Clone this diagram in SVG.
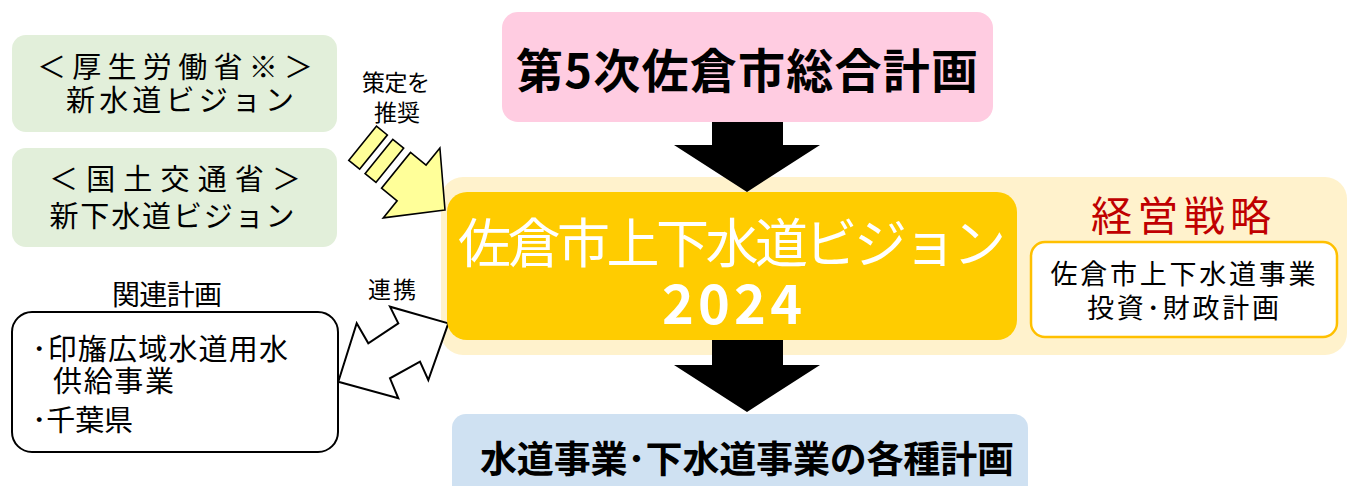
<svg xmlns="http://www.w3.org/2000/svg" width="1349" height="486" viewBox="0 0 1349 486">
<style>
text{font-family:"Noto Sans CJK JP","Noto Sans",sans-serif;fill:#000}
.green{fill:#E2EFDA}
.t29{font-size:29px}
.lbl{font-size:23px;text-anchor:middle}
.mid{text-anchor:middle}
.bold{font-weight:bold}
</style>
<rect width="1349" height="486" fill="#fff"/>
<g id="bg-strategy"><rect x="441" y="177" width="906" height="178" rx="22" fill="#FFF2CC"/></g>
<g id="node-sogo">
<rect x="502" y="12" width="491" height="110" rx="16" fill="#FFCCE1"/>
<text x="747" y="88" class="mid bold" font-size="47" textLength="462" lengthAdjust="spacing">第5次佐倉市総合計画</text>
</g>
<g id="node-mhlw">
<rect x="12" y="35" width="325" height="97" rx="14" class="green"/>
<text x="175" y="78" class="mid t29" textLength="276" lengthAdjust="spacing">＜厚生労働省※＞</text>
<text x="180" y="111" class="mid t29" textLength="228" lengthAdjust="spacing">新水道ビジョン</text>
</g>
<g id="node-mlit">
<rect x="12" y="148" width="325" height="99" rx="14" class="green"/>
<text x="175" y="190" class="mid t29" textLength="252" lengthAdjust="spacing">＜国土交通省＞</text>
<text x="172" y="227" class="mid t29" textLength="245" lengthAdjust="spacing">新下水道ビジョン</text>
</g>
<g id="node-related">
<text x="167" y="305" class="mid" font-size="28" textLength="110" lengthAdjust="spacing">関連計画</text>
<rect x="12" y="312" width="326" height="140" rx="20" fill="#fff" stroke="#000" stroke-width="2"/>
<text x="32" y="360" class="t29" textLength="256" lengthAdjust="spacing">･印旛広域水道用水</text>
<text x="53" y="392" class="t29" textLength="121" lengthAdjust="spacing">供給事業</text>
<text x="32" y="431" class="t29" textLength="101" lengthAdjust="spacing">･千葉県</text>
</g>
<g id="connectors">
<polygon points="712,122 783,122 783,145 820,145 747,192 674,145 712,145" fill="#000"/>
<polygon points="712,340 783,340 783,365 820,365 747,412 674,365 712,365" fill="#000"/>
<g transform="translate(445,210) rotate(39)" fill="#FFFF99" stroke="#000" stroke-width="1.6" stroke-linejoin="miter">
<polygon points="0,0 -43,45 -43,23 -63,23 -63,-23 -43,-23 -43,-45"/>
<rect x="-85" y="-22" width="14" height="44"/>
<rect x="-106" y="-22" width="14" height="44"/>
</g>
<polygon points="448.3,323.3 428.3,380 420,361.7 390,378.3 398.3,398.3 338.3,381.7 356.7,323.3 368.3,343.3 398.3,323.3 390,306.7" fill="#fff" stroke="#000" stroke-width="2"/>
<text x="396" y="91" class="lbl" textLength="68" lengthAdjust="spacing">策定を</text>
<text x="397" y="121" class="lbl" textLength="46" lengthAdjust="spacing">推奨</text>
<text x="392" y="298" class="lbl" textLength="48" lengthAdjust="spacing">連携</text>
</g>
<g id="node-vision">
<rect x="447" y="192" width="570" height="148" rx="20" fill="#FFCC00"/>
<text x="732" y="263" class="mid" font-size="53" style="fill:#fff" textLength="548" lengthAdjust="spacing">佐倉市上下水道ビジョン</text>
<text x="732" y="324" class="mid bold" font-size="54" style="fill:#fff" textLength="140" lengthAdjust="spacing">2024</text>
</g>
<g id="node-strategy">
<text x="1181" y="231" class="mid" font-size="41" style="fill:#C00000" textLength="180" lengthAdjust="spacing">経営戦略</text>
<rect x="1031" y="242" width="306" height="95" rx="14" fill="#fff" stroke="#FFC000" stroke-width="2.5"/>
<text x="1183" y="284" class="mid" font-size="27" textLength="265" lengthAdjust="spacing">佐倉市上下水道事業</text>
<text x="1183" y="318" class="mid" font-size="27" textLength="192" lengthAdjust="spacing">投資･財政計画</text>
</g>
<g id="node-plans">
<rect x="452" y="414" width="576" height="100" rx="14" fill="#CFE1F2"/>
<text x="747" y="473" class="mid bold" font-size="37" textLength="534" lengthAdjust="spacing">水道事業･下水道事業の各種計画</text>
</g>
</svg>
